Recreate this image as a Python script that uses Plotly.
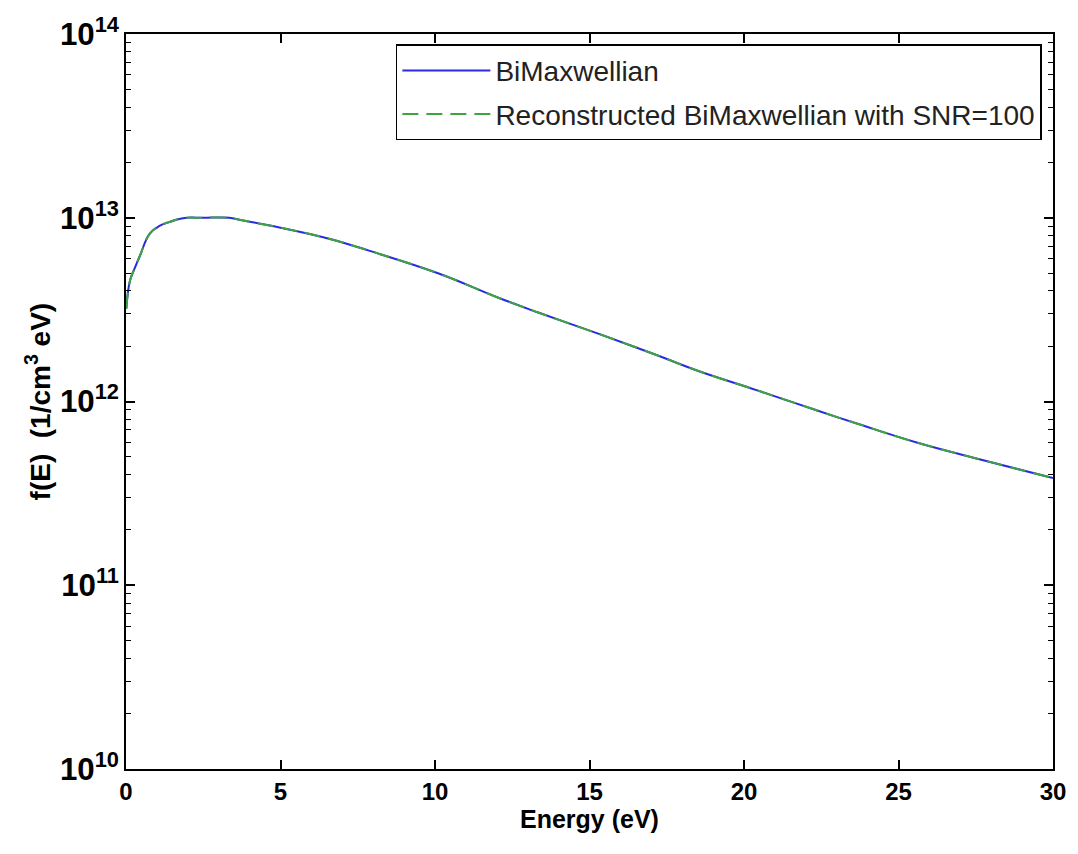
import plotly.graph_objects as go

# Energy grid (eV) and distribution values f(E) in 1/(cm^3 eV)
energy = [0.01, 0.13, 0.29, 0.45, 0.77, 1.10, 1.42, 1.84, 2.5, 3.35, 3.67, 5.0,
          6.57, 7.86, 10.12, 12.05, 13.34, 15.28, 17.21, 18.50, 20.43, 22.37,
          23.65, 25.59, 27.52, 30.0]
bimaxwellian = [3.2e12, 4.55e12, 5.35e12, 6.21e12, 8.19e12, 9.06e12, 9.5e12,
                9.95e12, 1.0e13, 1.0e13, 9.75e12, 8.83e12, 7.69e12, 6.62e12,
                4.97e12, 3.67e12, 3.05e12, 2.34e12, 1.78e12, 1.47e12, 1.15e12,
                8.93e11, 7.59e11, 5.98e11, 4.90e11, 3.83e11]
reconstructed = [3.2e12, 4.55e12, 5.35e12, 6.21e12, 8.19e12, 9.06e12, 9.5e12,
                 9.95e12, 1.0e13, 1.0e13, 9.75e12, 8.83e12, 7.69e12, 6.62e12,
                 4.97e12, 3.67e12, 3.05e12, 2.34e12, 1.78e12, 1.47e12, 1.15e12,
                 8.93e11, 7.59e11, 5.98e11, 4.90e11, 3.83e11]

x_ticks = [0, 5, 10, 15, 20, 25, 30]

FONT = "Liberation Sans, Arial, sans-serif"

fig = go.Figure()
fig.add_trace(go.Scatter(
    x=energy, y=bimaxwellian, mode="lines", name="BiMaxwellian",
    legendgroup="a",
    line=dict(color="#2a2ae0", width=2, shape="spline", smoothing=1.2),
))
fig.add_trace(go.Scatter(
    x=energy, y=reconstructed, mode="lines",
    name="Reconstructed BiMaxwellian with SNR=100", legendgroup="b",
    line=dict(color="#3fa33f", width=2, dash="16px,8px",
              shape="spline", smoothing=1.2),
))

fig.update_layout(
    width=1078, height=854,
    margin=dict(l=126, r=21, t=34, b=85),
    paper_bgcolor="white", plot_bgcolor="white",
    font=dict(family=FONT, color="black"),
    showlegend=True,
    legend=dict(
        x=0.988, y=0.986, xanchor="right", yanchor="top",
        bgcolor="white", bordercolor="black", borderwidth=1.5,
        font=dict(family=FONT, size=28, color="#222"),
        itemwidth=88, traceorder="grouped", tracegroupgap=4,
    ),
    xaxis=dict(
        range=[0, 30], tickvals=x_ticks, ticktext=[str(v) for v in x_ticks],
        showgrid=False, zeroline=False,
        showline=True, linecolor="black", linewidth=2, mirror="ticks",
        ticks="inside", ticklen=9, tickwidth=1.5, tickcolor="black",
        tickfont=dict(family=FONT, size=24, weight="bold"),
    ),
    yaxis=dict(
        type="log", range=[10, 14], dtick=1,
        exponentformat="power", showexponent="all",
        showgrid=False, zeroline=False,
        showline=True, linecolor="black", linewidth=2, mirror="ticks",
        ticks="inside", ticklen=9, tickwidth=1.5, tickcolor="black",
        minor=dict(ticks="inside", ticklen=5, tickwidth=1.2, tickcolor="black",
                   dtick="D1", showgrid=False),
        tickfont=dict(family=FONT, size=25, weight="bold"),
    ),
    annotations=[
        dict(text="Energy (eV)", xref="paper", yref="paper",
             x=0.5, y=-0.068, xanchor="center", yanchor="middle",
             showarrow=False,
             font=dict(family=FONT, size=25, weight="bold", color="black")),
        dict(text="f(E)  (1/cm<sup>3</sup> eV)", xref="paper", yref="paper",
             x=-0.095, y=0.5, xanchor="center", yanchor="middle",
             textangle=-90, showarrow=False,
             font=dict(family=FONT, size=28, weight="bold", color="black")),
    ],
)

fig.write_html("out.html")
